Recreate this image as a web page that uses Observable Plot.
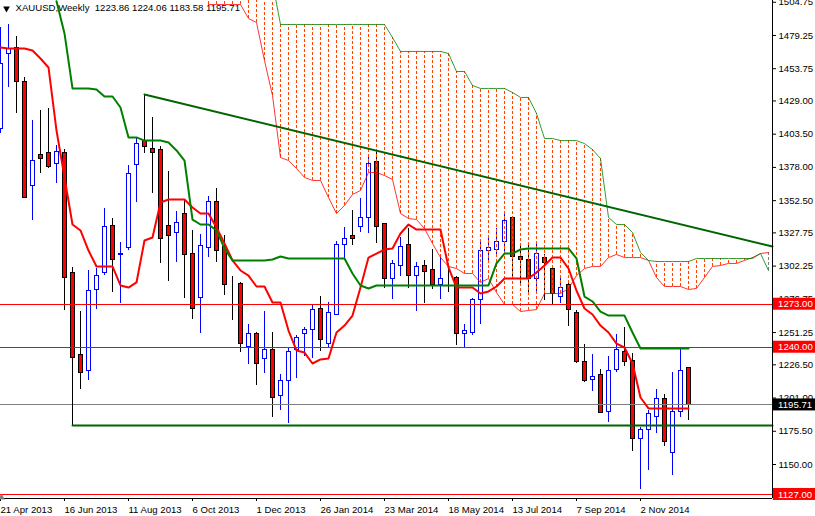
<!DOCTYPE html>
<html><head><meta charset="utf-8">
<style>html,body{margin:0;padding:0;background:#fff}svg{display:block}</style>
<script src="https://cdn.jsdelivr.net/npm/d3@7"></script>
<script src="https://cdn.jsdelivr.net/npm/@observablehq/plot@0.6"></script>
</head><body><script>
const opens=[1407.1,1465.4,1469.3,1443.2,1364.1,1387.9,1389.4,1381.0,1389.4,1297.3,1234.4,1221.4,1284.3,1296.6,1333.4,1310.4,1315.8,1380.2,1397.9,1392.5,1391.0,1333.4,1327.3,1341.9,1311.9,1277.4,1315.8,1351.8,1317.3,1288.1,1288.9,1239.8,1249.8,1230.6,1237.5,1202.9,1213.7,1237.5,1249.8,1253.6,1269.7,1242.8,1265.1,1318.8,1325.0,1331.9,1338.8,1382.5,1334.2,1292.7,1302.0,1318.8,1294.3,1302.7,1299.6,1288.1,1292.7,1293.5,1249.8,1251.3,1276.6,1313.5,1315.0,1320.4,1338.8,1309.6,1307.3,1292.7,1308.8,1300.4,1278.2,1287.4,1266.6,1229.0,1215.2,1218.3,1190.6,1222.9,1236.7,1229.8,1169.2,1176.1,1186.1,1200.6,1159.2,1190.6,1223.86];
const highs=[1485.4,1487.7,1478.5,1447.0,1414.0,1421.7,1423.2,1394.8,1391.7,1301.2,1267.4,1298.9,1300.4,1346.5,1338.8,1320.4,1379.5,1400.2,1434.0,1416.3,1394.0,1374.9,1344.2,1352.6,1329.6,1326.5,1355.7,1361.8,1325.7,1294.3,1289.7,1257.4,1251.3,1267.4,1251.3,1219.0,1239.8,1249.0,1255.1,1272.0,1279.0,1274.3,1321.1,1331.9,1344.9,1354.1,1387.1,1391.7,1334.9,1306.6,1324.2,1331.1,1305.0,1306.6,1315.0,1308.8,1304.3,1294.3,1257.4,1277.4,1320.4,1325.7,1331.1,1343.4,1338.8,1318.0,1318.0,1320.4,1311.2,1302.7,1295.0,1289.7,1268.2,1242.1,1234.4,1222.9,1232.9,1249.8,1255.1,1235.2,1178.4,1191.4,1207.5,1203.7,1220.6,1238.2,1224.06];
const lows=[1404.0,1439.3,1419.4,1354.1,1337.2,1373.3,1377.2,1365.6,1268.2,1218.3,1207.5,1214.5,1268.9,1295.0,1282.0,1273.5,1314.2,1351.1,1388.7,1358.0,1304.3,1290.4,1305.0,1277.4,1261.3,1250.5,1308.8,1305.0,1279.7,1260.5,1235.9,1226.7,1210.6,1219.8,1186.1,1191.4,1181.4,1216.0,1232.9,1231.3,1236.7,1239.8,1264.3,1308.1,1318.0,1328.0,1327.3,1319.6,1285.1,1276.6,1294.3,1285.1,1267.4,1273.5,1284.3,1276.6,1282.0,1241.3,1239.8,1249.0,1257.4,1305.0,1308.8,1311.9,1293.5,1287.4,1282.0,1282.0,1275.9,1272.8,1273.5,1255.9,1227.5,1212.9,1206.0,1189.1,1182.2,1220.6,1225.2,1160.0,1130.8,1145.4,1173.8,1163.8,1141.5,1186.1,1183.58];
const closes=[1457.0,1468.5,1443.9,1354.9,1383.3,1384.8,1378.7,1390.2,1293.5,1232.1,1220.6,1283.5,1294.3,1332.6,1307.3,1311.9,1372.6,1396.3,1394.0,1388.7,1323.4,1325.0,1335.7,1310.4,1269.7,1318.0,1351.1,1314.2,1287.4,1288.1,1242.8,1250.5,1227.5,1237.5,1201.4,1213.7,1236.7,1246.7,1253.6,1268.2,1245.2,1266.6,1318.8,1323.4,1323.4,1338.8,1381.0,1331.9,1292.7,1303.5,1317.3,1295.0,1301.2,1298.1,1288.1,1292.7,1292.7,1250.5,1252.8,1276.6,1313.5,1315.8,1320.4,1337.2,1309.6,1307.3,1292.7,1311.2,1304.3,1280.5,1285.8,1268.9,1228.3,1213.7,1216.8,1189.9,1222.1,1238.2,1229.0,1169.9,1176.1,1188.4,1200.6,1166.9,1190.6,1222.1,1195.71];
const tenkan=[1470.0,1469.3,1469.3,1469.3,1467.7,1461.6,1454.7,1406.3,1370.3,1334.2,1329.6,1314.2,1302.0,1302.0,1302.0,1287.4,1285.8,1289.7,1321.9,1324.2,1351.1,1353.4,1353.4,1353.4,1347.2,1342.6,1342.6,1331.9,1319.6,1306.6,1298.9,1295.0,1286.6,1286.6,1274.3,1274.3,1252.8,1237.5,1235.9,1227.5,1230.6,1231.3,1251.3,1256.6,1264.3,1285.8,1308.8,1311.9,1315.0,1315.8,1327.3,1334.2,1330.3,1330.3,1330.3,1330.3,1301.2,1285.8,1285.8,1285.8,1281.2,1282.8,1286.6,1292.7,1292.7,1292.7,1292.7,1297.3,1302.7,1308.8,1308.8,1300.4,1283.5,1269.7,1265.1,1256.6,1251.3,1242.8,1239.8,1227.5,1201.4,1193.0,1193.0,1193.0,1193.0,1193.0,1193.0];
// Kijun: first value belongs to week 7
const kijun=[1505.5,1480.8,1438.6,1438.6,1438.6,1437.8,1432.4,1432.4,1424.0,1401.0,1401.0,1398.6,1398.6,1398.6,1397.1,1391.0,1383.3,1338.0,1334.2,1334.2,1329.6,1315.8,1306.6,1306.6,1306.6,1306.6,1306.6,1307.3,1309.6,1308.1,1308.1,1308.1,1308.1,1308.1,1308.1,1308.1,1308.1,1296.6,1287.4,1285.1,1287.4,1287.4,1287.4,1287.4,1287.4,1287.4,1287.4,1287.4,1287.4,1287.4,1287.4,1287.4,1287.4,1287.4,1287.4,1304.3,1311.9,1311.9,1315.0,1315.8,1315.8,1315.8,1315.8,1315.8,1315.8,1308.1,1278.9,1275.1,1267.4,1264.3,1264.3,1264.3,1251.3,1239.0,1239.0,1239.0,1239.0,1239.0,1239.0,1239.0];
// Cloud spans: first value belongs to week 26
const spanA=[1503,1503,1503,1503,1503,1492.3,1489.2,1460.0,1433.2,1385.6,1383.3,1377.2,1370.3,1368.0,1368.0,1354.9,1342.6,1348.8,1357.2,1360.3,1374.1,1374.1,1371.8,1368.7,1342.6,1338.8,1338.0,1331.1,1319.6,1308.8,1302.0,1300.4,1296.6,1296.6,1289.7,1292.7,1282.0,1272.8,1272.8,1267.4,1268.2,1268.9,1281.2,1281.2,1281.2,1285.1,1295.0,1300.4,1302.0,1302.0,1308.8,1311.2,1308.8,1308.8,1308.8,1306.6,1293.5,1286.6,1286.6,1286.6,1284.3,1285.1,1293.5,1302.0,1302.7,1304.3,1304.3,1306.6,1308.8,1311.9,1312.7];
const spanB=[1520,1520,1520,1520,1520,1520,1520,1520,1520,1487.7,1487.7,1487.7,1487.7,1487.7,1487.7,1487.7,1487.7,1487.7,1487.7,1487.7,1487.7,1487.7,1487.7,1477.7,1467.0,1467.0,1467.0,1467.0,1467.0,1467.0,1465.4,1451.6,1451.6,1440.9,1438.6,1438.6,1438.6,1438.6,1435.5,1431.7,1431.7,1419.4,1400.2,1400.2,1398.6,1398.6,1398.6,1396.3,1391.7,1384.8,1339.6,1334.2,1334.2,1328.0,1312.7,1306.6,1305.8,1305.8,1305.8,1305.8,1305.8,1308.1,1308.1,1308.1,1308.1,1308.1,1308.1,1308.1,1308.1,1311.9,1298.9];
const yTicks=[1504.75,1479.25,1453.75,1429,1403.5,1378,1352.5,1327.75,1302.25,1276.75,1251.25,1226.5,1201,1175.5,1150];
const xTickWeeks=[0,8,16,24,32,40,48,56,64,72,80];
const xTickLabels=["21 Apr 2013","16 Jun 2013","11 Aug 2013","6 Oct 2013","1 Dec 2013","26 Jan 2014","23 Mar 2014","18 May 2014","13 Jul 2014","7 Sep 2014","2 Nov 2014"];
const levels=[{price:1273,label:"1273.00",color:"#ff0000"},{price:1240,label:"1240.00",color:"#ff0000"},{price:1127,label:"1127.00",color:"#ff0000"},{price:1195.71,label:"1195.71",color:"#000000"}];
const trendline=[{i:18,p:1434.0},{i:96.5,p:1317.3}];
const support=[{i:9,p:1179.9},{i:96.5,p:1179.9}];
const pivot=[{i:9,p1:1232.1,p2:1179.9}];
const header="XAUUSD,Weekly  1223.86 1224.06 1183.58 1195.71";

const candles=opens.map((o,i)=>({i,o,h:highs[i],l:lows[i],c:closes[i]}));
const up=d=>d.c>d.o;
const series=(a,start)=>a.map((p,k)=>({i:start+k,p}));
const cloud=spanA.map((a,k)=>({i:26+k,a,b:spanB[k]}));
const font="'Liberation Sans',Arial,sans-serif";
const crisp={shapeRendering:"crispEdges"};

const chart=Plot.plot({
  width:815,height:516,marginLeft:0,marginRight:43,marginTop:0,marginBottom:18,
  style:{background:"#fff",fontFamily:font,fontSize:"9.6px",color:"#000"},
  x:{type:"linear",domain:[0,96.5],range:[0,772]},
  y:{type:"linear",domain:[1123.9,1506.1],range:[498,0]},
  marks:[
    Plot.ruleX(candles,{x:"i",y1:"l",y2:"h",stroke:d=>up(d)?"#0000ff":"#000000",strokeWidth:1,...crisp}),
    Plot.rect(candles,{x1:d=>d.i-0.25,x2:d=>d.i+0.25,y1:"o",y2:"c",fill:d=>up(d)?"#ffffff":"#ff0000",stroke:d=>up(d)?"#0000ff":"#000000",strokeWidth:1,...crisp}),
    Plot.ruleX(cloud,{x:"i",y1:"a",y2:"b",stroke:d=>d.a>d.b?"#808080":"#ff4500",strokeWidth:1,strokeDasharray:"3 2",clip:true,...crisp}),
    Plot.line(series(spanA,26),{x:"i",y:"p",stroke:"#ff0000",strokeWidth:0.8,clip:true}),
    Plot.line(series(spanB,26),{x:"i",y:"p",stroke:"#008000",strokeWidth:0.8,clip:true}),
    Plot.ruleY(levels,{y:"price",x1:0,x2:96.5,stroke:d=>d.color==="#000000"?"#808080":"#ff0000",strokeWidth:1,...crisp}),
    Plot.line(series(tenkan,0),{x:"i",y:"p",stroke:"#ff0000",strokeWidth:2,clip:true}),
    Plot.line(series(kijun,7),{x:"i",y:"p",stroke:"#008000",strokeWidth:2,clip:true}),
    Plot.ruleX(pivot,{x:"i",y1:"p1",y2:"p2",stroke:"#000000",strokeWidth:1,...crisp}),
    Plot.line(support,{x:"i",y:"p",stroke:"#006400",strokeWidth:2}),
    Plot.line(trendline,{x:"i",y:"p",stroke:"#006400",strokeWidth:2}),
    Plot.axisY({anchor:"right",ticks:yTicks,tickFormat:d=>d.toFixed(2),tickSize:3,tickPadding:3,label:null,stroke:"#000",fontSize:9.6}),
    Plot.rect(levels,{x1:96.6,x2:101.9,y1:d=>d.price-4.6,y2:d=>d.price+4.6,fill:"color"}),
    Plot.text(levels,{x:97.2,y:"price",text:"label",fill:"#fff",textAnchor:"start",fontSize:9.6}),
    Plot.axisX({ticks:xTickWeeks,tickFormat:d=>xTickLabels[xTickWeeks.indexOf(d)],tickSize:3,tickPadding:5,label:null,textAnchor:"start",fontSize:9.6}),
    Plot.ruleX([96.5],{stroke:"#000",...crisp}),
    Plot.ruleY([1123.9],{stroke:"#000",...crisp}),
    Plot.text([header],{frameAnchor:"top-left",dx:15,dy:4,fontSize:9.6,textAnchor:"start",fill:"#000",lineAnchor:"top"}),
    Plot.dot([0],{frameAnchor:"top-left",dx:6,dy:8,symbol:"triangle",r:2.5,fill:"#000",rotate:180}),
    Plot.dot([0],{frameAnchor:"bottom-left",dx:1,dy:-1,symbol:"triangle",r:2.5,fill:"#808080"})
  ]
});
document.body.appendChild(chart);
</script></body></html>
